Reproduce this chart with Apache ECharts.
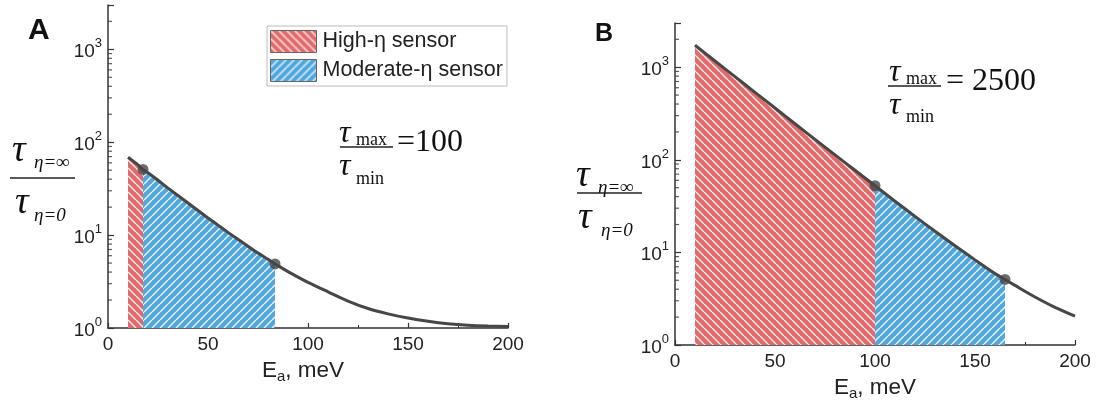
<!DOCTYPE html>
<html><head><meta charset="utf-8">
<script src="https://cdn.jsdelivr.net/npm/echarts@6/dist/echarts.min.js"></script>
<style>html,body{margin:0;padding:0;background:#fff}#c{width:1096px;height:406px}</style>
</head><body><div id="c"></div>
<script>
// ---------- DATA ----------
const energyA = [10, 15, 17.5, 20, 25, 30, 35, 40, 45, 50, 55, 60, 65, 70, 75, 80, 83.5, 90, 100, 110, 120, 130, 140, 150, 160, 170, 180, 190, 200];
const ratioA  = [69, 57, 51, 47, 39, 32, 26.7, 22.2, 18.4, 15.3, 12.8, 10.7, 9.0, 7.6, 6.4, 5.5, 4.9, 4.05, 3.1, 2.45, 1.95, 1.62, 1.42, 1.28, 1.18, 1.11, 1.07, 1.05, 1.04];
const highA = [10, 17.5];       // High-η sensor range, panel A
const modA  = [17.5, 83.5];     // Moderate-η sensor range, panel A
const markA_E = [17.5, 83.5];
const markA_R = [51, 4.9];

const energyB = [10, 20, 30, 40, 50, 60, 70, 80, 90, 100, 110, 120, 130, 140, 150, 160, 165, 170, 180, 190, 200];
const ratioB  = [1725, 1167, 790, 535, 362, 245, 166, 113, 77, 52.5, 35.7, 24.5, 16.9, 11.8, 8.3, 5.9, 5.1, 4.4, 3.3, 2.55, 2.05];
const highB = [10, 100];
const modB  = [100, 165];
const markB_E = [100, 165];
const markB_R = [52.5, 5.1];

const xTicks = [0, 50, 100, 150, 200];
const yMinorTicks = [2,3,4,5,6,7,8,9,20,30,40,50,60,70,80,90,200,300,400,500,600,700,800,900,2000];
const legendNames = ['High-η sensor', 'Moderate-η sensor'];
const ratioA_text = '=100';
const ratioB_text = '= 2500';

// ---------- STYLE HELPERS ----------
const RED = '#e26a6b', BLUE = '#50a7de', CURVE = '#474747', AXIS = '#333';
function pattern(color, dir) {
  const s = 8, c = document.createElement('canvas');
  c.width = s; c.height = s;
  const g = c.getContext('2d');
  g.fillStyle = color; g.fillRect(0, 0, s, s);
  g.strokeStyle = 'rgba(255,255,255,0.85)'; g.lineWidth = 1.5;
  g.beginPath();
  for (let k = -1; k <= 1; k++) {
    if (dir === '\\') { g.moveTo(k * s, 0); g.lineTo(k * s + s, s); }
    else { g.moveTo(k * s, s); g.lineTo(k * s + s, 0); }
  }
  g.stroke();
  return { image: c, repeat: 'repeat' };
}
const redPat = pattern(RED, '\\');
const bluePat = pattern(BLUE, '/');

function pairs(xs, ys) { return xs.map((x, i) => [x, ys[i]]); }
function range(xs, ys, r) { return pairs(xs, ys).filter(p => p[0] >= r[0] - 1e-9 && p[0] <= r[1] + 1e-9); }

function yLabel(v) {
  const e = Math.round(Math.log10(v));
  if (Math.abs(v - Math.pow(10, e)) > 1e-6 * v) return '';
  return '{b|10}{s|' + e + '}';
}
const yRich = {
  b: { fontSize: 19, fontFamily: 'Liberation Sans', color: '#222', lineHeight: 24, verticalAlign: 'bottom' },
  s: { fontSize: 13, fontFamily: 'Liberation Sans', color: '#222', lineHeight: 24, verticalAlign: 'top' }
};
const xRich = {
  n: { fontSize: 22.5, fontFamily: 'Liberation Sans', color: '#222', lineHeight: 25, verticalAlign: 'top' },
  a: { fontSize: 15, fontFamily: 'Liberation Sans', color: '#222', lineHeight: 25, verticalAlign: 'bottom' }
};

function xAxis(gi, gap, pad) {
  return {
    type: 'value', gridIndex: gi, min: 0, max: 200, interval: 50,
    name: '{n|E}{a|a}{n|, meV}', nameLocation: 'middle', nameGap: gap,
    nameTextStyle: { rich: xRich, padding: pad },
    axisLine: { show: true, lineStyle: { color: AXIS, width: 1.5 } },
    axisTick: { show: true, inside: true, length: 5, lineStyle: { color: AXIS, width: 1.2 } },
    minorTick: { show: true, splitNumber: 2, length: 3, lineStyle: { color: AXIS, width: 1 } },
    axisLabel: { fontSize: 19, fontFamily: 'Liberation Sans', color: '#222', margin: 7,
      formatter: v => xTicks.includes(v) ? String(v) : '' },
    splitLine: { show: false }
  };
}
function yAxis(gi) {
  return {
    type: 'log', logBase: 10, gridIndex: gi, min: 1, max: 3000,
    axisLine: { show: true, lineStyle: { color: AXIS, width: 1.5 } },
    axisTick: { show: true, inside: true, length: 6, lineStyle: { color: AXIS, width: 1.2 } },
    axisLabel: { margin: 6, formatter: yLabel, rich: yRich },
    splitLine: { show: false }
  };
}

function panelSeries(gi, xs, ys, hi, mo, mE, mR) {
  return [
    { type: 'line', name: legendNames[0], xAxisIndex: gi, yAxisIndex: gi, data: range(xs, ys, hi),
      showSymbol: false, lineStyle: { width: 0 }, itemStyle: { color: RED },
      areaStyle: { color: redPat, opacity: 1, origin: 'start' }, z: 2, silent: true },
    { type: 'line', name: legendNames[1], xAxisIndex: gi, yAxisIndex: gi, data: range(xs, ys, mo),
      showSymbol: false, lineStyle: { width: 0 }, itemStyle: { color: BLUE },
      areaStyle: { color: bluePat, opacity: 1, origin: 'start' }, z: 2, silent: true },
    { type: 'line', xAxisIndex: gi, yAxisIndex: gi, data: pairs(xs, ys), smooth: 0.3,
      showSymbol: false, lineStyle: { color: CURVE, width: 3 }, z: 4, silent: true },
    { type: 'scatter', xAxisIndex: gi, yAxisIndex: gi, data: pairs(mE, mR),
      symbolSize: 11, itemStyle: { color: CURVE }, z: 5, silent: true },
    { type: 'scatter', xAxisIndex: gi, yAxisIndex: gi, data: yMinorTicks.map(v => [0, v]),
      symbol: 'rect', symbolSize: [4, 1.2], symbolOffset: [2, 0], itemStyle: { color: AXIS },
      z: 6, silent: true, clip: false }
  ];
}

// ---------- GRAPHIC TEXT ----------
const SERIF = 'Liberation Serif';
function txt(x, y, text, size, opt) {
  opt = opt || {};
  return { type: 'text', x: x, y: y, z: 10, silent: true,
    style: { text: text, fontSize: size, fontFamily: opt.family || SERIF, fontStyle: opt.italic ? 'italic' : 'normal',
      fontWeight: opt.bold ? 'bold' : 'normal', fill: '#111', textAlign: opt.align || 'left', textVerticalAlign: 'middle' } };
}
function hline(x1, x2, y) {
  return { type: 'line', z: 10, silent: true, shape: { x1: x1, y1: y, x2: x2, y2: y }, style: { stroke: '#222', lineWidth: 1.5 } };
}
const graphics = [
  txt(28, 31, 'A', 30, { family: 'Liberation Sans', bold: true }),
  txt(595, 34, 'B', 25, { family: 'Liberation Sans', bold: true }),
  // y title A
  txt(12, 151, 'τ', 38, { italic: true }), txt(34, 163, 'η=∞', 19, { italic: true }),
  hline(10, 75, 178),
  txt(15, 203, 'τ', 38, { italic: true }), txt(34, 216, 'η=0', 19, { italic: true }),
  // y title B
  txt(576, 176, 'τ', 38, { italic: true }), txt(598, 188, 'η=∞', 19, { italic: true }),
  hline(577, 642, 193),
  txt(578, 218, 'τ', 38, { italic: true }), txt(601, 231, 'η=0', 19, { italic: true }),
  // formula A
  txt(339, 134, 'τ', 32, { italic: true }), txt(356, 140, 'max', 18),
  hline(340, 393, 147),
  txt(339, 167, 'τ', 32, { italic: true }), txt(356, 179, 'min', 18),
  txt(397, 143, ratioA_text, 32),
  // formula B
  txt(889, 73, 'τ', 32, { italic: true }), txt(906, 79, 'max', 18),
  hline(888, 941, 86),
  txt(889, 106, 'τ', 32, { italic: true }), txt(906, 117, 'min', 18),
  txt(946, 82, ratioB_text, 32)
];

// ---------- CHART ----------
const chart = echarts.init(document.getElementById('c'), null, { renderer: 'canvas' });
chart.setOption({
  animation: false,
  backgroundColor: '#fff',
  grid: [
    { left: 108, top: 5, width: 400, height: 323, containLabel: false, outerBoundsMode: 'none' },
    { left: 675, top: 23, width: 400, height: 322, containLabel: false, outerBoundsMode: 'none' }
  ],
  xAxis: [xAxis(0, 28, [0, 10, 0, 0]), xAxis(1, 29, 0)],
  yAxis: [yAxis(0), yAxis(1)],
  legend: {
    left: 267, top: 26, orient: 'vertical', itemWidth: 46, itemHeight: 22, itemGap: 6,
    padding: [4, 4, 4, 3], borderColor: '#bbb', borderWidth: 1, backgroundColor: '#fff',
    selectedMode: false, icon: 'rect',
    textStyle: { fontSize: 21.5, fontFamily: 'Liberation Sans', color: '#222', lineHeight: 22, padding: [0, 0, 0, 1] },
    data: [
      { name: legendNames[0], itemStyle: { color: redPat, borderColor: '#666', borderWidth: 1 } },
      { name: legendNames[1], itemStyle: { color: bluePat, borderColor: '#666', borderWidth: 1 } }
    ]
  },
  series: [].concat(
    panelSeries(0, energyA, ratioA, highA, modA, markA_E, markA_R),
    panelSeries(1, energyB, ratioB, highB, modB, markB_E, markB_R)
  ),
  graphic: graphics
});
</script></body></html>
